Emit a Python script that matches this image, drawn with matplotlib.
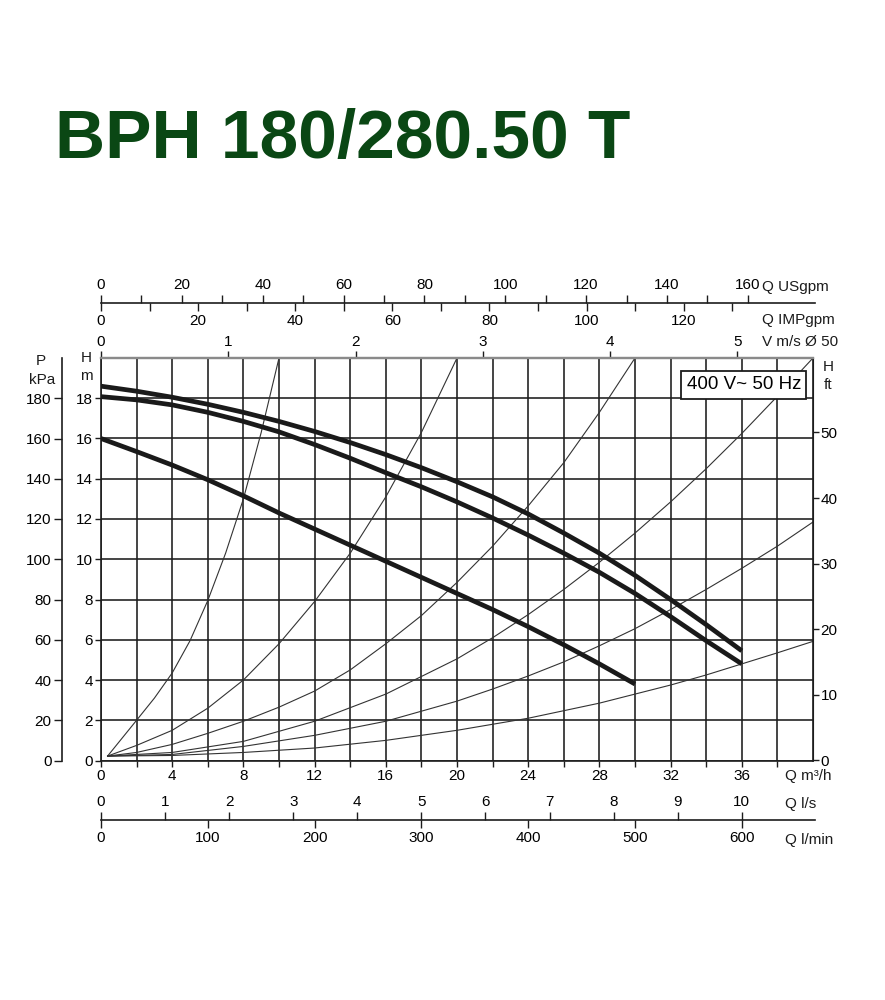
import matplotlib
matplotlib.use('Agg')
import matplotlib.pyplot as plt

plt.rcParams['font.family'] = ['Liberation Sans', 'DejaVu Sans']

# ---------------- data ----------------
title = "BPH 180/280.50 T"
box_label = "400 V~ 50 Hz"

# pump curves: Q in m3/h, H in m
q_a = [0, 2, 4, 6, 8, 10, 12, 14, 16, 18, 20, 22, 24, 26, 28, 30, 32, 34, 36]
h_a = [18.6, 18.35, 18.05, 17.7, 17.3, 16.85, 16.35, 15.8, 15.2, 14.55, 13.85,
       13.1, 12.25, 11.3, 10.3, 9.2, 8.0, 6.75, 5.45]
q_b = [0, 2, 4, 6, 8, 10, 12, 14, 16, 18, 20, 22, 24, 26, 28, 30, 32, 34, 36]
h_b = [18.08, 17.92, 17.67, 17.3, 16.85, 16.33, 15.7, 15.02, 14.3, 13.6, 12.85,
       12.05, 11.2, 10.3, 9.35, 8.3, 7.15, 5.95, 4.8]
q_c = [0, 2, 4, 6, 8, 10, 12, 14, 16, 18, 20, 22, 24, 26, 28, 30]
h_c = [16.0, 15.35, 14.68, 13.95, 13.15, 12.3, 11.5, 10.7, 9.9, 9.1, 8.3,
       7.5, 6.65, 5.75, 4.8, 3.8]

# system curves
q_s1 = [0.37, 2, 3, 4, 5, 6, 7, 8, 9, 10]
h_s1 = [0.22, 2.0, 3.1, 4.35, 5.95, 7.95, 10.3, 13.0, 16.3, 20.0]
q_s2 = [0.37, 2, 4, 6, 8, 10, 12, 14, 16, 18, 20]
h_s2 = [0.22, 0.75, 1.5, 2.6, 4.0, 5.8, 7.9, 10.3, 13.1, 16.3, 20.0]
q_s3 = [0.37, 2, 4, 6, 8, 10, 12, 14, 16, 18, 20, 22, 24, 26, 28, 30]
h_s3 = [0.22, 0.4, 0.8, 1.35, 1.95, 2.65, 3.45, 4.5, 5.8, 7.2, 8.85, 10.65,
        12.65, 14.8, 17.3, 20.0]
q_s4 = [0.37, 4, 8, 12, 16, 20, 22, 24, 26, 28, 30, 32, 34, 36, 38, 40]
h_s4 = [0.22, 0.4, 0.95, 1.95, 3.3, 5.05, 6.1, 7.25, 8.5, 9.85, 11.3, 12.85,
        14.5, 16.25, 18.1, 20.0]
q_s5 = [0.37, 4, 8, 12, 16, 20, 22, 24, 26, 28, 30, 32, 34, 36, 38, 40]
h_s5 = [0.22, 0.3, 0.7, 1.25, 1.95, 2.95, 3.55, 4.2, 4.9, 5.7, 6.55, 7.5, 8.5,
        9.55, 10.65, 11.85]
q_s6 = [0.37, 4, 8, 12, 16, 20, 24, 28, 30, 32, 34, 36, 38, 40]
h_s6 = [0.22, 0.25, 0.4, 0.62, 1.0, 1.5, 2.1, 2.85, 3.3, 3.75, 4.25, 4.8, 5.35, 5.92]

# tick values of the scales
q_major = [0, 4, 8, 12, 16, 20, 24, 28, 32, 36]
q_minor = [2, 6, 10, 14, 18, 22, 26, 30, 34, 38]
h_ticks = [0, 2, 4, 6, 8, 10, 12, 14, 16, 18]
kpa_ticks = [0, 20, 40, 60, 80, 100, 120, 140, 160, 180]
ft_ticks = [0, 10, 20, 30, 40, 50]
v_ticks = [0, 1, 2, 3, 4, 5]
us_major = [0, 20, 40, 60, 80, 100, 120, 140, 160]
us_minor = [10, 30, 50, 70, 90, 110, 130, 150]
imp_major = [0, 20, 40, 60, 80, 100, 120]
imp_minor = [10, 30, 50, 70, 90, 110, 130]
ls_ticks = [0, 1, 2, 3, 4, 5, 6, 7, 8, 9, 10]
lmin_ticks = [0, 100, 200, 300, 400, 500, 600]

# unit conversions to m3/h / m (scale factors as drawn on the chart)
USG = 0.2271
IMP = 0.2728
VQ = 7.15       # m3/h per m/s, pipe diameter 50
LS = 3.6
LMIN = 0.06
FT = 0.326      # m per ft as spaced on the chart's ft scale
KPA = 10.0

# ---------------- figure ----------------
W, Hh = 885, 1000
fig = plt.figure(figsize=(8.85, 10), dpi=100)


def fx(px):
    return px / W


def fy(py):
    return 1 - py / Hh


L, R, T, B = 101, 813, 358, 760.5
ink = '#1c1c1c'
FS = 11

fig.text(fx(55), fy(140), title, fontsize=50, fontweight='bold',
         color='#0a4714', ha='left', va='center')

ax = fig.add_axes([fx(L), fy(B), (R - L) / W, (B - T) / Hh])
ax.set_xlim(0, 40)
ax.set_ylim(0, 20)
ax.set_xticks(q_major)
ax.set_xticks(q_minor, minor=True)
ax.set_yticks(h_ticks)
ax.grid(which='both', color=ink, lw=1.15, zorder=1)
ax.tick_params(axis='both', which='both', direction='out', length=4,
               width=1.0, color=ink, labelsize=FS, pad=2)
for s in ['left', 'bottom', 'right']:
    ax.spines[s].set_color(ink)
    ax.spines[s].set_linewidth(1.2)
ax.spines['top'].set_color('#8a8a8a')
ax.spines['top'].set_linewidth(1.6)

thin = dict(color='#333333', lw=0.8, zorder=2)
for qs, hs in [(q_s1, h_s1), (q_s2, h_s2), (q_s3, h_s3),
               (q_s4, h_s4), (q_s5, h_s5), (q_s6, h_s6)]:
    ax.plot(qs, hs, **thin)

thick = dict(color='#1a1a1a', lw=3.4, zorder=3, solid_capstyle='butt')
ax.plot(q_a, h_a, **thick)
ax.plot(q_b, h_b, **thick)
ax.plot(q_c, h_c, **thick)

ax.text(0.903, 0.933, box_label, transform=ax.transAxes, fontsize=13.5,
        ha='center', va='center', zorder=5,
        bbox=dict(boxstyle='square,pad=0.28', fc='white', ec=ink, lw=1.3))

# top: velocity scale
sec_v = ax.secondary_xaxis('top', functions=(lambda q: q / VQ, lambda v: v * VQ))
sec_v.set_xticks(v_ticks)
sec_v.tick_params(direction='out', length=5, width=1.0, color=ink,
                  labelsize=FS, pad=1.5)
sec_v.spines['top'].set_color('#8a8a8a')
sec_v.spines['top'].set_linewidth(1.6)

# right: feet
sec_ft = ax.secondary_yaxis('right', functions=(lambda h: h / FT, lambda f: f * FT))
sec_ft.set_yticks(ft_ticks)
sec_ft.tick_params(direction='out', length=4, width=1.0, color=ink,
                   labelsize=FS, pad=1.5)
sec_ft.spines['right'].set_color(ink)

# left: pressure kPa
axp = fig.add_axes([fx(62), fy(B), 0.0001, (B - T) / Hh])
axp.set_ylim(0, 20 * KPA)
axp.set_xticks([])
axp.set_yticks(kpa_ticks)
axp.patch.set_visible(False)
for s in ['top', 'right', 'bottom']:
    axp.spines[s].set_visible(False)
axp.spines['left'].set_color(ink)
axp.spines['left'].set_linewidth(1.2)
axp.tick_params(axis='y', direction='out', length=6, width=1.0, color=ink,
                labelsize=FS, pad=1.5)

# top gpm line
x_end = 815
qmax_line = 40 * (x_end - L) / (R - L)


def line_axes(py):
    a = fig.add_axes([fx(L), fy(py), (x_end - L) / W, 0.0001])
    a.set_xlim(0, qmax_line)
    a.set_ylim(0, 1)
    a.set_yticks([])
    a.patch.set_visible(False)
    for s in ['top', 'right', 'left', 'bottom']:
        a.spines[s].set_visible(False)
    return a


ax_us = line_axes(303)
ax_us.spines['bottom'].set_visible(True)
ax_us.spines['bottom'].set_color(ink)
ax_us.spines['bottom'].set_linewidth(1.2)
ax_us.set_xticks([u * USG for u in us_major], labels=[str(u) for u in us_major])
ax_us.set_xticks([u * USG for u in us_minor], minor=True)
ax_us.tick_params(axis='x', which='both', top=True, bottom=False, labeltop=True,
                  labelbottom=False, direction='out', length=6, width=1.0,
                  color=ink, labelsize=FS, pad=2)

ax_imp = line_axes(303)
ax_imp.set_xticks([i * IMP for i in imp_major], labels=[str(i) for i in imp_major])
ax_imp.set_xticks([i * IMP for i in imp_minor], minor=True)
ax_imp.tick_params(axis='x', which='both', top=False, bottom=True, labeltop=False,
                   labelbottom=True, direction='out', length=6, width=1.0,
                   color=ink, labelsize=FS, pad=2)

# bottom l/s and l/min line
ax_ls = line_axes(820)
ax_ls.spines['bottom'].set_visible(True)
ax_ls.spines['bottom'].set_color(ink)
ax_ls.spines['bottom'].set_linewidth(1.2)
ax_ls.set_xticks([v * LS for v in ls_ticks], labels=[str(v) for v in ls_ticks])
ax_ls.tick_params(axis='x', which='both', top=True, bottom=False, labeltop=True,
                  labelbottom=False, direction='out', length=6, width=1.0,
                  color=ink, labelsize=FS, pad=2)

ax_lm = line_axes(820)
ax_lm.set_xticks([v * LMIN for v in lmin_ticks], labels=[str(v) for v in lmin_ticks])
ax_lm.tick_params(axis='x', which='both', top=False, bottom=True, labeltop=False,
                  labelbottom=True, direction='out', length=6, width=1.0,
                  color=ink, labelsize=FS, pad=2)

# unit labels
ut = dict(fontsize=FS, color=ink, va='center')
fig.text(fx(762), fy(287), 'Q USgpm', ha='left', **ut)
fig.text(fx(762), fy(320), 'Q IMPgpm', ha='left', **ut)
fig.text(fx(762), fy(342), 'V m/s Ø 50', ha='left', **ut)
fig.text(fx(785), fy(776), 'Q m³/h', ha='left', **ut)
fig.text(fx(785), fy(804), 'Q l/s', ha='left', **ut)
fig.text(fx(785), fy(840), 'Q l/min', ha='left', **ut)
fig.text(fx(828), fy(367), 'H', ha='center', **ut)
fig.text(fx(828), fy(385), 'ft', ha='center', **ut)
fig.text(fx(86), fy(358), 'H', ha='center', **ut)
fig.text(fx(86), fy(376), 'm', ha='center', **ut)
fig.text(fx(41), fy(361), 'P', ha='center', **ut)
fig.text(fx(42), fy(380), 'kPa', ha='center', **ut)

fig.savefig('out.png', dpi=100)
